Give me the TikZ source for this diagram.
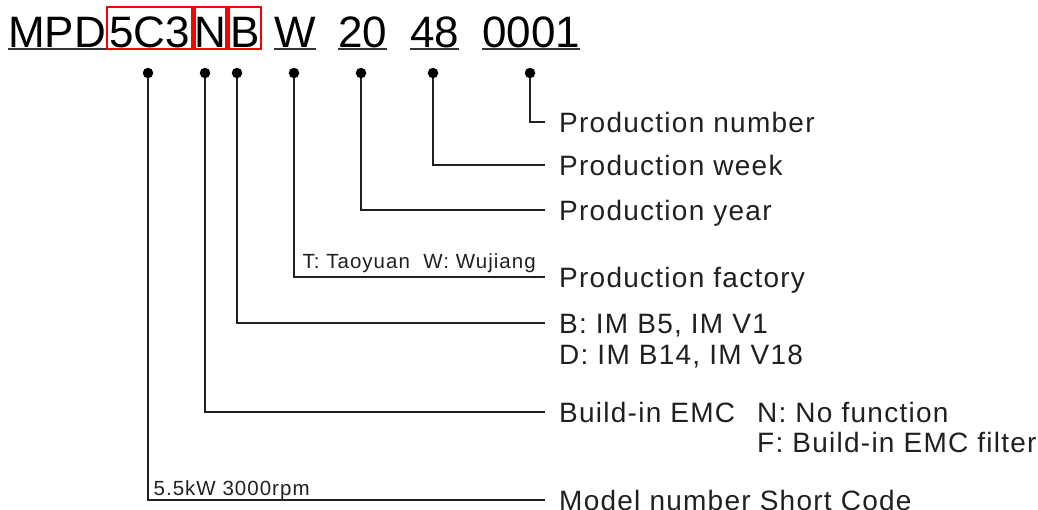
\documentclass[tikz,border=0pt]{standalone}
\usepackage{fontspec}
\setmainfont{Liberation Sans}
\usetikzlibrary{positioning}
\definecolor{inkgray}{RGB}{35,31,32}

\begin{document}
\begin{tikzpicture}[x=1pt, y=1pt,
    code/.style={inner xsep=0pt, inner ysep=2pt, text height=38pt, text depth=0pt,
        font=\fontsize{44}{44}\selectfont},
    codebox/.style={code, draw=red, line width=2.2pt},
    uline/.style={draw=black!80, line width=1.6pt},
    dot/.style={circle, fill=black, inner sep=0pt, minimum size=10.5pt},
    wire/.style={draw=inkgray, line width=1.3pt},
    lab/.style={anchor=west, inner xsep=14pt, inner ysep=0pt, text height=20pt,
        text depth=0pt, text=inkgray,
        font=\fontsize{28}{30}\selectfont\addfontfeatures{LetterSpace=4.5}},
    note/.style={anchor=base west, inner sep=0pt, text=inkgray,
        font=\fontsize{20.5}{21}\selectfont\addfontfeatures{LetterSpace=5}}]
    \useasboundingbox (0,0) rectangle (1038,-509);

    % type code
    \node[code, anchor=base west] (mpd) at (8,-47) {MPD};
    \node[codebox, minimum width=85pt, right=0pt of mpd] (c5C3) {5C3};
    \node[codebox, minimum width=32pt, right=0pt of c5C3] (cN) {N};
    \node[codebox, minimum width=32pt, right=0pt of cN] (cB) {B};
    \foreach \name/\txt/\x in {cW/W/274, cYr/20/338, cWk/48/410, cNo/0001/482}
        \node[code, anchor=base west] (\name) at (\x,-47) {\txt};
    \foreach \name in {mpd,cW,cYr,cWk,cNo}
        \draw[uline] (\name.south west) -- (\name.south east);

    % dots under the fields
    \foreach \name/\x in {d5C3/148, dN/205, dB/237, dW/294, dYr/361, dWk/433, dNo/530}
        \node[dot] (\name) at (\x,-73) {};

    % meanings
    \node[lab] (lnum) at (545,-122) {Production number};
    \node[lab] (lweek) at (545,-165) {Production week};
    \node[lab] (lyear) at (545,-210) {Production year};
    \node[lab] (lfac) at (545,-277) {Production factory};
    \node[lab] (lbmount) at (545,-323) {B: IM B5, IM V1};
    \node[lab, below=11pt of lbmount.south west, anchor=north west] (ldmount) {D: IM B14, IM V18};
    \node[lab] (lemc) at (545,-412) {Build-in EMC};
    \node[lab] (lnfun) at (743,-412) {N: No function};
    \node[lab, below=10pt of lnfun.south west, anchor=north west] (lffun) {F: Build-in EMC filter};
    \node[lab] (lmodel) at (545,-500) {Model number Short Code};

    % connectors
    \draw[wire] (dNo) |- (lnum.west);
    \draw[wire] (dWk) |- (lweek.west);
    \draw[wire] (dYr) |- (lyear.west);
    \draw[wire] (dW) |- node[note, xshift=8pt, yshift=9pt] (nfac) {T: Taoyuan\ \ W: Wujiang} (lfac.west);
    \draw[wire] (dB) |- (lbmount.west);
    \draw[wire] (dN) |- (lemc.west);
    \draw[wire] (d5C3) |- node[note, xshift=5pt, yshift=5pt] (nrate) {5.5kW 3000rpm} (lmodel.west);
\end{tikzpicture}
\end{document}
